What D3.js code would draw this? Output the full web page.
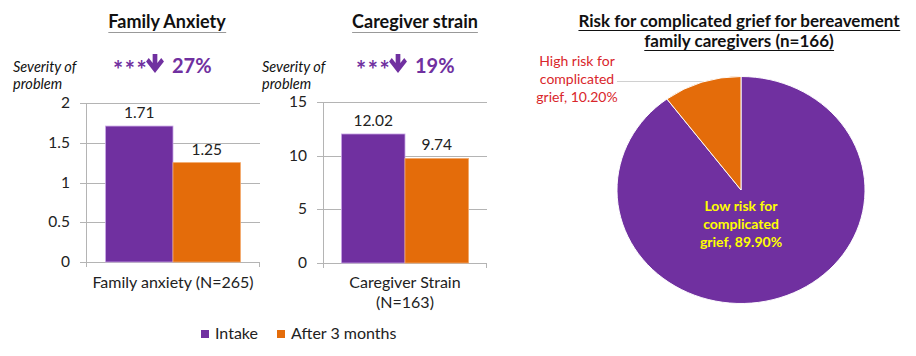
<!DOCTYPE html>
<html><head><meta charset="utf-8">
<script src="https://cdn.jsdelivr.net/npm/d3@7"></script>
<style>
html,body{margin:0;padding:0;background:#fff;}
svg{display:block;font-family:Lato,"Open Sans",sans-serif;}
</style></head>
<body><svg id="c" width="916" height="356"></svg>
<script>
// ---- data ----
const chartTitles = ["Family Anxiety", "Caregiver strain"];
const categories = [["Family anxiety (N=265)"], ["Caregiver Strain", "(N=163)"]];
const seriesNames = ["Intake", "After 3 months"];
const intake = [1.71, 12.02];
const after3 = [1.25, 9.74];
const yMaxes = [2, 15];
const yTicks = [[0, 0.5, 1, 1.5, 2], [0, 5, 10, 15]];
const changeLabels = ["27%", "19%"];
const yAxisTitle = ["Severity of", "problem"];
const pieTitle = ["Risk for complicated grief for bereavement", "family caregivers (n=166)"];
const pieLabels = [["Low risk for", "complicated", "grief, 89.90%"], ["High risk for", "complicated", "grief, 10.20%"]];
const pieValues = [89.9, 10.2];

const PURPLE = "#7030a0", ORANGE = "#e46c0a", GRID = "#b4b4b4";
const svg = d3.select("#c");

// ---- bar charts ----
const layouts = [
  {x0: 86, x1: 260, y0: 262, y1: 103, gridStart: 80, titleX: 167, sevX: 13, chgX: 113},
  {x0: 323, x1: 487, y0: 263, y1: 102, gridStart: 317, titleX: 415, sevX: 262, chgX: 356}
];

layouts.forEach((L, i) => {
  const g = svg.append("g");
  const y = d3.scaleLinear().domain([0, yMaxes[i]]).range([L.y0, L.y1]);
  const xOuter = d3.scaleBand().domain([categories[i].join(" ")]).range([L.x0, L.x1]).paddingInner(0).paddingOuter(0.145);
  const xInner = d3.scaleBand().domain(seriesNames).range([0, xOuter.bandwidth()]);

  // gridlines + tick labels
  g.selectAll("line.grid").data(yTicks[i]).join("line")
    .attr("x1", L.gridStart).attr("x2", L.x1)
    .attr("y1", d => Math.round(y(d)) + 0.5).attr("y2", d => Math.round(y(d)) + 0.5)
    .attr("stroke", GRID).attr("stroke-width", 1);
  g.selectAll("text.tick").data(yTicks[i]).join("text")
    .attr("x", L.gridStart - 10).attr("y", d => y(d) + 5)
    .attr("text-anchor", "end").attr("font-size", 15.5).attr("fill", "#222")
    .text(d => d);
  // axis lines
  g.append("line").attr("x1", L.x0 + 0.5).attr("x2", L.x0 + 0.5).attr("y1", L.y1).attr("y2", L.y0 + 5)
    .attr("stroke", GRID);
  g.append("line").attr("x1", L.x1 - 0.5).attr("x2", L.x1 - 0.5).attr("y1", L.y0).attr("y2", L.y0 + 5)
    .attr("stroke", GRID);

  const cat = categories[i].join(" ");
  const vals = [intake[i], after3[i]];
  const colors = [PURPLE, ORANGE];
  g.selectAll("rect.bar").data(vals).join("rect")
    .attr("x", (d, j) => xOuter(cat) + xInner(seriesNames[j]))
    .attr("width", xInner.bandwidth())
    .attr("y", d => y(d)).attr("height", d => y(0) - y(d))
    .attr("fill", (d, j) => colors[j])
    .attr("stroke", (d, j) => j === 0 ? "#c9a6e6" : "#f3a86a").attr("stroke-width", 0.8);
  g.selectAll("text.val").data(vals).join("text")
    .attr("x", (d, j) => xOuter(cat) + xInner(seriesNames[j]) + xInner.bandwidth() / 2)
    .attr("y", d => y(d) - 8)
    .attr("text-anchor", "middle").attr("font-size", 15.5).attr("fill", "#222")
    .text(d => d.toFixed(2));

  // category label
  categories[i].forEach((t, k) => {
    g.append("text").attr("x", xOuter(cat) + xOuter.bandwidth() / 2).attr("y", 288 + k * 20)
      .attr("text-anchor", "middle").attr("font-size", 16).attr("fill", "#222").text(t);
  });

  // title
  const tt = g.append("text").attr("x", L.titleX).attr("y", 28).attr("text-anchor", "middle")
    .attr("font-size", 18).attr("font-weight", "bold").attr("fill", "#111").text(chartTitles[i]);
  const bb = tt.node().getBBox();
  g.append("line").attr("x1", bb.x).attr("x2", bb.x + bb.width).attr("y1", 32.5).attr("y2", 32.5)
    .attr("stroke", "#999").attr("stroke-width", 1.2);

  // severity label
  yAxisTitle.forEach((t, k) => {
    g.append("text").attr("x", L.sevX).attr("y", 72 + k * 17).attr("font-size", 14.5)
      .attr("font-style", "italic").attr("fill", "#111").text(t);
  });

  // change label: *** arrow percent
  g.append("text").attr("x", L.chgX).attr("y", 79).attr("font-size", 24).attr("font-weight", "bold")
    .attr("letter-spacing", 1.5).attr("fill", PURPLE).text("***");
  const ax = L.chgX + 42, ay = 54;
  g.append("path")
    .attr("d", `M${ax - 3},${ay} h6 v9 l5,-5 l3.5,3.5 l-11.5,11.5 l-11.5,-11.5 l3.5,-3.5 l5,5 z`)
    .attr("transform", `translate(${ax},0) scale(0.78,1) translate(${-ax},0)`)
    .attr("fill", PURPLE);
  g.append("text").attr("x", L.chgX + 59).attr("y", 73).attr("font-size", 20).attr("font-weight", "bold")
    .attr("fill", PURPLE).text(changeLabels[i]);
});

// legend
const legX = [201, 277];
seriesNames.forEach((s, j) => {
  svg.append("rect").attr("x", legX[j]).attr("y", 330).attr("width", 8).attr("height", 8)
    .attr("fill", j === 0 ? PURPLE : ORANGE);
  svg.append("text").attr("x", legX[j] + 14).attr("y", 339).attr("font-size", 16).attr("fill", "#222").text(s);
});

// ---- pie ----
const cx = 741, cy = 190, R = 124, ryScale = 113.5 / 124;
const pie = d3.pie().sort(null).value(d => d)(pieValues);
const arc = d3.arc().innerRadius(0).outerRadius(R);
// leader line
svg.append("line").attr("x1", 617).attr("x2", 704).attr("y1", 81.5).attr("y2", 81.5)
  .attr("stroke", "#d0d0d0").attr("stroke-width", 1);
const pg = svg.append("g").attr("transform", `translate(${cx},${cy}) scale(1,${ryScale})`);
pg.selectAll("path").data(pie).join("path")
  .attr("d", arc).attr("fill", (d, j) => j === 0 ? PURPLE : ORANGE)
  .attr("stroke", "#fff").attr("stroke-width", 1);

pieLabels[0].forEach((t, k) => {
  svg.append("text").attr("x", cx).attr("y", 211 + k * 18).attr("text-anchor", "middle")
    .attr("font-size", 14).attr("font-weight", "bold").attr("fill", "#ffff00").text(t);
});
pieLabels[1].forEach((t, k) => {
  svg.append("text").attr("x", 577).attr("y", 66 + k * 18).attr("text-anchor", "middle")
    .attr("font-size", 14).attr("fill", "#d9262b").text(t);
});
pieTitle.forEach((t, k) => {
  const tx = svg.append("text").attr("x", cx - 2).attr("y", 27 + k * 20).attr("text-anchor", "middle")
    .attr("font-size", 17).attr("font-weight", "bold").attr("fill", "#111").text(t);
  const b = tx.node().getBBox();
  svg.append("line").attr("x1", b.x).attr("x2", b.x + b.width).attr("y1", 30.5 + k * 20).attr("y2", 30.5 + k * 20)
    .attr("stroke", "#111").attr("stroke-width", 1.2);
});
</script></body></html>
